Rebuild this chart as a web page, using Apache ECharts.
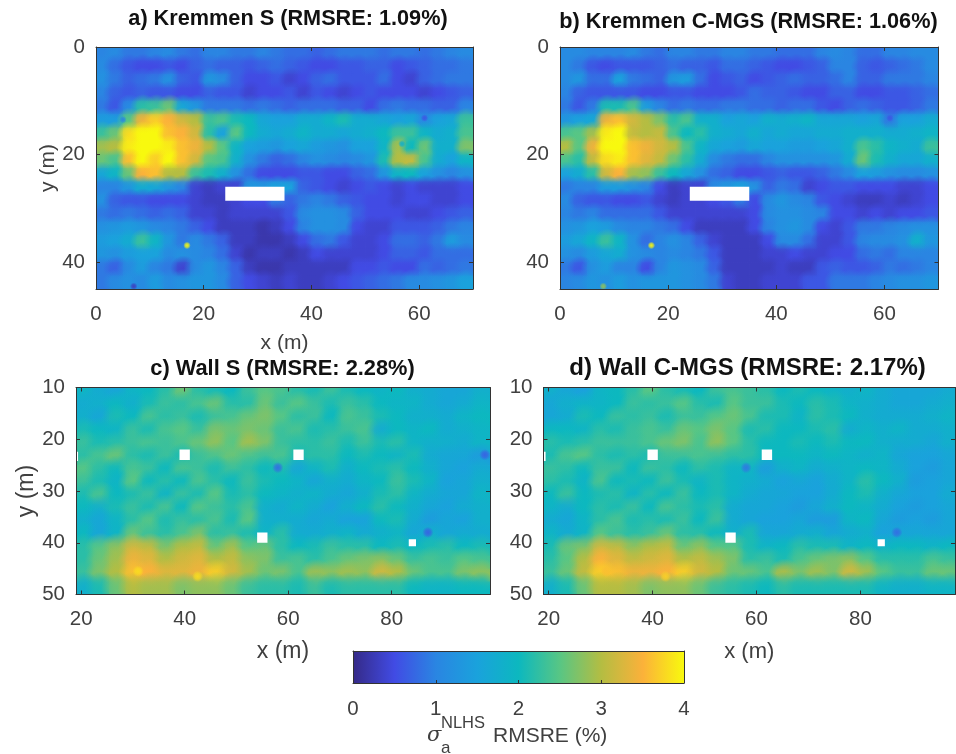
<!DOCTYPE html>
<html><head><meta charset="utf-8">
<style>html,body{margin:0;padding:0;background:#fff}#c{width:956px;height:754px}#c canvas{filter:blur(.45px)}</style>
<script src="https://cdn.jsdelivr.net/npm/echarts@6/dist/echarts.min.js"></script>
</head><body><div id="c"></div>
<script>
const palette=['#352a87','#414be4','#2a85e2','#1aa2dc','#0cb8bf','#58c684','#b4bd42','#fbb13a','#f8f90e'];
const kremmenTicksX=[0,20,40,60], kremmenTicksY=[0,20,40];
const wallTicksX=[20,40,60,80], wallTicksY=[10,20,30,40,50];
const barTicks=[0,1,2,3,4];
const titles=['a) Kremmen S (RMSRE: 1.09%)','b) Kremmen C-MGS (RMSRE: 1.06%)','c) Wall S (RMSRE: 2.28%)','d) Wall C-MGS (RMSRE: 2.17%)'];
const kremmenS=[
[1.0,1.1,0.9,0.9,1.0,1.1,0.9, 0.8,1.0,1.0,0.9,0.9,1.0,0.9, 0.8,0.8,0.7,0.8,0.9,0.9,0.9, 0.8,0.9,0.9,0.8,0.9,1.0,1.1],
[1.1,0.8,0.6,0.5,0.5,0.6,0.5, 0.7,0.8,0.7,0.7,0.6,0.7,0.8, 0.7,0.6,0.5,0.5,0.6,0.6,0.7, 0.7,0.5,0.6,0.7,0.8,0.8,0.9],
[1.2,0.9,0.7,0.8,0.9,1.2,0.7, 0.6,1.3,1.1,0.7,0.5,0.5,0.6, 0.4,0.5,0.7,0.8,0.6,0.6,0.6, 0.8,0.5,0.4,0.7,0.8,0.9,0.9],
[1.0,0.7,0.6,0.7,0.6,0.6,0.5, 0.5,0.7,0.6,0.6,0.4,0.5,0.5, 0.6,0.4,0.6,0.5,0.4,0.5,0.6, 0.5,0.5,0.5,0.4,0.5,0.6,0.7],
[0.9,0.6,1.1,2.2,2.3,2.6,1.6, 1.3,0.9,0.9,0.9,0.8,0.9,0.8, 0.7,0.8,0.8,0.8,0.7,0.7,0.5, 0.8,0.9,0.8,0.8,0.7,0.7,1.0],
[1.4,1.4,2.5,3.4,3.7,3.5,3.2, 3.0,2.3,2.4,2.1,2.0,1.6,1.5, 1.5,1.7,1.7,1.9,2.1,1.7,1.7, 1.6,1.5,1.6,1.1,1.5,1.6,2.3],
[2.3,2.6,3.8,4.0,4.0,3.6,3.5, 3.2,2.2,1.5,2.5,2.0,1.7,1.6, 1.7,1.9,1.7,1.7,1.6,1.7,1.8, 2.0,2.3,2.3,1.9,1.7,1.8,2.4],
[2.9,3.0,3.9,4.0,4.0,3.9,3.6, 3.4,3.0,2.5,1.9,1.5,1.4,1.3, 1.5,1.6,1.4,1.3,1.2,1.5,1.5, 1.9,2.9,2.0,2.6,1.8,1.8,2.7],
[2.6,2.4,3.6,4.0,3.7,4.0,3.6, 3.2,2.5,2.4,1.8,1.2,0.9,0.7, 0.8,1.0,1.2,1.1,1.0,1.1,1.3, 2.1,3.0,3.1,2.4,1.7,1.5,1.9],
[1.6,1.9,2.6,3.5,3.6,3.0,3.0, 2.3,2.1,1.8,1.2,0.8,0.5,0.5, 0.5,0.6,0.6,0.5,0.5,0.7,0.8, 1.3,1.9,2.0,1.5,1.2,1.0,1.2],
[1.0,1.0,1.3,1.7,1.6,1.3,1.0, 0.4,0.3,0.4,0.4,1.3,1.3,1.5, 1.5,0.7,0.6,0.5,0.4,0.5,0.6, 0.5,0.4,0.5,0.4,0.4,0.4,0.5],
[1.2,0.7,0.6,0.6,0.5,0.5,0.5, 0.4,0.3,0.3,0.4,0.5,0.5,0.9, 0.7,0.9,1.0,0.9,0.7,0.6,0.5, 0.5,0.4,0.5,0.5,0.4,0.4,0.5],
[0.9,0.8,0.9,0.8,0.7,0.8,0.7, 0.4,0.4,0.3,0.4,0.4,0.4,0.4, 0.6,1.1,1.2,1.2,1.1,0.7,0.5, 0.5,0.5,0.4,0.4,0.5,0.6,0.7],
[1.2,1.3,1.4,1.3,1.1,1.0,0.9, 0.7,0.5,0.3,0.3,0.3,0.2,0.3, 0.5,1.0,1.2,1.2,1.1,0.5,0.4, 0.4,0.6,0.6,0.6,0.7,0.9,1.0],
[1.4,1.5,1.7,2.3,1.9,1.3,0.9, 1.1,0.9,0.7,0.3,0.3,0.2,0.2, 0.3,0.5,0.8,0.9,0.6,0.4,0.4, 0.5,0.8,0.8,0.7,0.9,1.4,1.1],
[1.3,1.2,1.4,1.5,1.5,1.1,1.2, 1.1,1.0,0.8,0.4,0.2,0.3,0.3, 0.2,0.3,0.5,0.4,0.4,0.4,0.4, 0.5,0.7,0.7,0.6,0.8,0.8,0.8],
[0.9,0.7,1.1,1.4,1.0,0.9,0.4, 1.1,1.3,1.0,0.7,0.3,0.2,0.2, 0.3,0.3,0.3,0.3,0.3,0.5,0.5, 0.6,0.5,0.5,0.8,0.7,0.8,0.9],
[0.9,1.1,1.2,1.1,1.4,1.1,1.2, 1.3,1.3,1.1,0.7,0.5,0.4,0.3, 0.4,0.3,0.3,0.4,0.5,0.6,0.7, 0.8,0.9,1.1,1.1,1.2,1.3,1.5]];
const kremmenC=[
[1.1,1.1,1.0,1.0,1.0,1.1,0.9, 0.8,1.0,1.0,0.9,0.9,1.0,1.0, 0.9,0.9,0.8,0.8,0.8,1.0,1.1, 1.0,0.8,0.8,1.0,1.0,1.1,1.1],
[1.1,0.9,0.6,0.5,0.6,0.6,0.6, 0.7,0.8,0.7,0.7,0.6,0.8,0.8, 0.7,0.6,0.5,0.5,0.6,0.7,1.0, 1.0,0.7,0.6,0.7,0.8,0.9,1.1],
[1.1,1.3,0.8,0.8,1.5,0.9,0.8, 0.7,1.3,1.4,0.8,0.5,0.6,0.7, 0.5,0.6,0.7,0.8,0.7,0.7,0.8, 1.0,0.7,0.7,0.9,0.9,0.9,1.0],
[1.0,0.7,0.6,0.6,0.6,0.6,0.5, 0.5,0.6,0.6,0.5,0.5,0.5,0.6, 0.8,0.7,0.7,0.6,0.5,0.5,0.7, 0.7,0.5,0.5,0.6,0.6,0.7,0.8],
[0.9,0.6,0.9,2.1,2.1,2.4,1.4, 1.0,0.8,0.9,0.8,0.8,0.9,0.9, 0.8,0.8,0.7,0.8,0.8,0.6,0.5, 0.7,0.8,0.7,0.6,0.6,0.7,0.9],
[1.3,1.5,1.6,3.4,3.6,3.2,3.0, 2.7,2.2,2.4,1.8,1.8,1.5,1.6, 1.5,1.8,1.7,1.8,1.9,1.6,1.6, 1.6,1.5,1.6,0.9,1.5,1.5,1.7],
[2.4,2.5,2.9,3.9,4.0,3.1,3.0, 3.1,2.4,2.0,2.2,1.8,1.7,1.6, 1.8,1.6,1.7,1.6,1.6,1.7,1.7, 1.8,1.8,1.8,1.7,1.7,1.8,1.9],
[3.0,2.5,3.4,4.0,4.0,3.6,3.4, 3.2,3.0,2.4,1.9,1.6,1.5,1.4, 1.6,1.5,1.5,1.4,1.4,1.5,1.6, 1.8,2.4,2.2,1.9,1.8,1.7,2.3],
[2.4,2.2,3.1,3.8,3.9,3.6,3.3, 3.1,2.6,2.2,1.7,1.1,0.9,0.8, 0.8,1.0,1.2,1.2,1.2,1.2,1.3, 1.7,2.6,2.1,1.8,1.6,1.6,1.8],
[1.5,1.7,2.2,3.2,3.5,2.9,2.8, 2.3,2.0,1.6,1.2,0.8,0.7,0.5, 0.5,0.6,0.7,0.6,0.6,0.7,0.9, 1.1,1.5,1.4,1.2,1.1,1.1,1.2],
[0.9,1.0,1.0,1.4,1.4,1.2,1.0, 0.5,0.3,0.4,0.4,1.1,1.3,1.5, 1.2,0.7,0.9,0.8,0.4,0.5,0.6, 0.6,0.5,0.5,0.5,0.4,0.4,0.5],
[1.1,0.7,0.6,0.6,0.5,0.5,0.6, 0.4,0.3,0.4,0.4,0.5,0.6,0.9, 0.5,1.1,1.3,1.1,1.0,0.6,0.5, 0.4,0.3,0.3,0.4,0.3,0.4,0.5],
[1.0,0.9,1.0,0.8,0.8,0.8,0.8, 0.6,0.4,0.4,0.4,0.4,0.4,0.4, 0.5,1.1,1.2,1.2,1.1,1.0,0.5, 0.5,0.4,0.5,0.4,0.5,0.5,0.6],
[1.2,1.3,1.5,1.4,1.1,1.0,1.0, 0.9,0.8,0.5,0.3,0.3,0.3,0.3, 0.5,1.0,1.2,1.3,1.1,0.5,0.4, 0.6,0.9,0.9,1.0,1.1,1.2,1.2],
[1.4,1.6,1.9,2.3,1.9,1.2,0.8, 1.0,1.2,1.0,0.7,0.4,0.3,0.3, 0.3,0.5,1.1,1.1,0.8,0.4,0.4, 0.6,1.0,1.1,1.1,1.2,1.8,1.3],
[1.2,1.1,1.4,1.6,1.7,1.2,1.1, 1.0,1.1,1.0,0.9,0.6,0.3,0.3, 0.3,0.4,0.4,0.5,0.4,0.4,0.5, 0.5,0.8,0.9,0.8,1.0,1.0,1.0],
[0.9,0.6,1.2,1.4,1.0,1.0,0.5, 1.0,1.3,1.2,1.1,0.7,0.3,0.3, 0.3,0.3,0.4,0.3,0.3,0.6,0.7, 0.6,0.6,0.7,0.9,0.8,0.9,1.0],
[1.0,1.1,1.3,1.2,1.4,1.2,1.3, 1.3,1.3,1.2,1.1,0.9,0.4,0.3, 0.3,0.4,0.4,0.4,0.6,0.6,0.9, 0.9,0.9,1.0,1.1,1.2,1.2,1.3]];
const wallS=[
[1.9,1.7,1.6,1.9,2.0, 2.2,2.6,2.2,2.1,2.0, 2.3,2.5,2.4,2.2,2.1, 2.3,2.1,2.0,1.9,2.0, 1.8,1.7,1.6,1.6,1.8],
[1.7,1.8,2.0,1.8,2.1, 2.3,2.2,2.4,2.6,2.2, 2.2,2.6,2.3,2.5,2.3, 2.1,2.3,2.2,2.0,1.9, 1.9,1.7,1.6,1.7,1.9],
[1.8,1.6,2.1,2.0,2.4, 2.2,2.3,2.1,2.3,2.4, 2.6,2.7,2.5,2.2,2.3, 2.0,2.4,2.3,2.1,2.0, 1.8,1.8,1.7,1.9,2.0],
[2.1,2.0,1.9,2.3,2.1, 2.4,2.5,2.3,2.7,2.6, 2.7,2.6,2.3,2.4,2.1, 2.2,2.3,2.4,1.7,2.0, 1.9,2.0,1.7,1.8,1.9],
[2.3,2.1,2.2,2.3,2.4, 2.3,2.4,2.6,2.8,2.5, 2.9,2.7,2.3,2.2,2.2, 2.3,2.1,2.3,2.1,2.2, 1.9,1.8,1.8,1.7,1.9],
[2.2,2.4,2.6,2.2,2.1, 2.3,2.1,2.3,2.4,2.6, 2.4,2.3,2.4,2.1,2.2, 2.2,2.0,2.1,2.0,1.9, 2.1,1.7,1.6,1.6,1.4],
[2.5,2.2,2.0,2.4,2.3, 2.0,2.4,2.3,2.1,2.3, 2.2,2.0,2.1,1.6,1.9, 2.1,1.8,2.0,2.1,2.2, 2.0,1.8,1.6,1.5,1.7],
[2.3,2.1,1.9,2.5,2.0, 2.2,2.0,2.4,2.2,2.0, 2.3,2.1,2.0,1.9,1.6, 1.8,1.7,1.9,2.0,2.3, 2.1,1.9,1.5,1.6,1.8],
[2.1,2.4,2.0,2.1,2.3, 1.9,2.3,2.1,2.5,2.1, 2.2,2.0,1.9,1.8,1.9, 1.7,1.6,1.8,2.1,2.2, 1.9,1.7,1.6,1.6,1.9],
[2.0,1.8,2.1,2.3,2.1, 2.4,2.0,2.5,2.3,2.2, 2.4,1.8,1.7,1.9,1.7, 1.5,1.8,2.0,2.2,2.0, 1.8,1.6,1.5,1.7,1.8],
[1.8,1.6,1.9,2.2,2.5, 2.1,2.3,2.2,2.4,2.1, 2.5,1.8,1.8,1.7,1.6, 1.7,1.5,1.5,2.0,2.1, 1.7,1.4,1.6,1.5,1.8],
[2.0,1.6,1.9,2.6,2.3, 2.2,2.4,2.7,2.2,2.3, 2.1,1.9,2.2,1.7,1.7, 1.8,1.9,1.7,1.8,1.9, 1.6,1.8,1.6,1.7,1.7],
[2.2,2.5,2.8,3.2,3.1, 2.7,3.0,3.1,2.6,2.9, 2.5,2.6,2.2,2.0,2.1, 2.3,2.2,2.2,2.0,2.1, 2.0,2.1,2.2,2.0,2.1],
[2.2,2.6,2.9,3.4,3.3, 3.0,3.2,3.3,3.0,3.1, 2.8,2.7,2.3,2.4,2.2, 2.4,2.6,2.7,2.8,2.6, 2.3,2.4,2.3,2.5,2.4],
[2.3,2.7,3.0,3.6,3.5, 3.3,3.3,3.4,3.7,3.2, 2.9,2.6,2.7,2.4,2.9, 2.8,2.9,2.8,3.2,3.0, 2.6,2.4,2.4,2.7,2.8],
[1.8,2.1,2.6,3.0,2.9, 2.9,2.7,2.8,2.8,2.6, 2.3,2.2,2.2,2.1,2.3, 2.1,2.2,2.2,2.2,2.2, 2.0,1.9,1.9,2.0,2.0]];
const wallC=[
[1.8,1.6,1.5,1.9,2.0, 2.2,2.5,2.2,2.1,2.0, 2.3,2.4,2.3,2.2,2.0, 2.1,2.0,1.9,1.8,1.9, 1.7,1.6,1.6,1.6,1.7],
[1.6,1.8,1.9,1.9,2.0, 2.3,2.2,2.3,2.5,2.2, 2.1,2.5,2.3,2.3,2.1, 2.0,2.2,2.1,1.9,1.8, 1.7,1.6,1.6,1.7,1.8],
[1.6,1.7,2.1,2.0,2.3, 2.2,2.3,2.1,2.3,2.3, 2.5,2.6,2.4,2.1,2.1, 1.9,2.2,2.1,2.0,1.8, 1.7,1.7,1.7,1.8,1.9],
[2.0,2.0,1.9,2.2,2.1, 2.3,2.4,2.3,2.6,2.5, 2.7,2.5,2.1,2.2,2.0, 2.0,2.1,2.2,1.7,1.9, 1.8,1.9,1.7,1.7,1.8],
[2.2,2.1,2.2,2.3,2.3, 2.3,2.4,2.6,2.7,2.4, 2.8,2.5,2.2,2.0,2.0, 2.1,2.0,2.1,2.0,2.0, 1.8,1.7,1.7,1.6,1.8],
[2.1,2.4,2.5,2.2,2.1, 2.2,2.1,2.3,2.3,2.4, 2.3,2.2,2.2,2.0,2.0, 2.0,1.9,2.0,1.9,1.8, 1.9,1.6,1.5,1.5,1.6],
[2.3,2.2,2.0,2.3,2.3, 2.0,2.3,2.2,2.0,2.2, 2.1,1.9,1.9,1.4,1.8, 1.9,1.7,1.8,1.9,2.0, 1.9,1.7,1.5,1.4,1.6],
[2.2,2.1,1.9,2.4,2.0, 2.1,2.0,2.3,2.1,1.9, 2.1,1.9,1.8,1.7,1.5, 1.6,1.5,1.7,1.9,2.2, 2.0,1.8,1.4,1.5,1.6],
[2.0,2.3,2.0,2.1,2.2, 1.9,2.2,2.0,2.3,2.0, 2.1,1.9,1.7,1.6,1.6, 1.5,1.5,1.7,2.0,2.1, 1.8,1.6,1.5,1.5,1.7],
[1.9,1.7,2.0,2.2,2.1, 2.3,2.0,2.4,2.2,2.1, 2.2,1.7,1.6,1.6,1.5, 1.4,1.6,1.8,2.0,1.9, 1.7,1.5,1.4,1.5,1.6],
[1.7,1.6,1.9,2.2,2.4, 2.1,2.2,2.1,2.3,2.0, 2.3,1.7,1.6,1.5,1.5, 1.6,1.4,1.4,1.9,2.0, 1.6,1.4,1.5,1.4,1.6],
[1.9,1.7,1.9,2.5,2.3, 2.2,2.3,2.6,2.2,2.2, 2.0,1.8,2.1,1.6,1.6, 1.7,1.8,1.6,1.7,1.8, 1.5,1.6,1.6,1.6,1.6],
[2.1,2.6,2.7,3.2,3.1, 2.8,3.0,3.1,2.6,2.8, 2.5,2.5,2.1,1.9,2.0, 2.2,2.1,2.1,1.9,2.0, 1.9,2.0,2.0,1.9,2.0],
[2.2,2.5,3.0,3.5,3.3, 3.1,3.2,3.3,3.0,3.1, 2.9,2.7,2.2,2.3,2.1, 2.4,2.6,2.7,2.8,2.5, 2.2,2.2,2.2,2.4,2.3],
[2.3,2.6,3.1,3.7,3.6, 3.4,3.4,3.5,3.7,3.2, 3.0,2.6,2.6,2.4,3.0, 2.7,2.9,2.7,3.2,2.9, 2.5,2.3,2.3,2.6,2.6],
[1.8,2.1,2.6,3.0,3.0, 2.9,2.7,2.8,2.8,2.6, 2.3,2.2,2.1,2.0,2.2, 2.1,2.1,2.1,2.1,2.1, 1.9,1.8,1.8,1.9,1.9]];
// small features: [x (m), y (m), value]
const spotsKS=[[16.9,36.9,4.0],[61,13.2,0.6],[7,44.5,0.3],[56.8,18,1.8],[5,13.5,1.0]];
const spotsKC=[[16.9,36.9,4.0],[61,13.2,0.6],[8,44.5,2.8]];
const spotsWS=[[58,25.5,0.8],[87,38,0.7],[98,23,0.7],[42.5,46.5,3.8],[31,45.5,3.8]];
const spotsWC=[[58,25.5,0.9],[87,38,0.8],[42.5,46.5,3.7],[31,45.5,3.6]];
// white holes: [x0, x1, y0, y1]
const holesK=[[24,35,26,28.6]];
const holesW=[[39,41,22,24],[61,63,22,24],[54,56,38,40],[83.3,84.7,39.3,40.7],[19,19.4,22.4,24.2]];

const panels=[
 {rows:kremmenS,spots:spotsKS,holes:holesK,x0:0,y0:0,dx:2.5,dy:2.5,sw:0.7,xr:[0,70],yr:[0,45],tx:kremmenTicksX,ty:kremmenTicksY,box:[96,47,377,242],xn:'x (m)',yn:'y (m)',xg:44,yg:33,xf:21,yf:21},
 {rows:kremmenC,spots:spotsKC,holes:holesK,x0:0,y0:0,dx:2.5,dy:2.5,sw:0.7,xr:[0,70],yr:[0,45],tx:kremmenTicksX,ty:kremmenTicksY,box:[560,47,378.5,242],xn:'',yn:''},
 {rows:wallS,spots:spotsWS,holes:holesW,x0:19,y0:10,dx:3.2,dy:2.5,sw:1.1,xr:[19,99],yr:[10,50],tx:wallTicksX,ty:wallTicksY,box:[76,387.5,414,207],xn:'x (m)',yn:'y (m)',xg:46,yg:37,xf:23,yf:23},
 {rows:wallC,spots:spotsWC,holes:holesW,x0:19,y0:10,dx:3.2,dy:2.5,sw:1.1,xr:[19,98.2],yr:[10,50],tx:wallTicksX,ty:wallTicksY,box:[543.5,387.5,411.5,207],xn:'x (m)',yn:'',xg:46,xf:22}
];
const TXT='#404040',LINE='#333333',FONT='"Liberation Sans",Arial,sans-serif';
const grid=[],xAxis=[],yAxis=[],series=[],title=[];
function cell(api){
  const a=api.coord([api.value(0),api.value(1)]),b=api.coord([api.value(3),api.value(4)]);
  return {type:'rect',shape:{x:a[0],y:a[1],width:b[0]-a[0]+.6,height:b[1]-a[1]+.6},style:{fill:api.visual('color')}};
}
function splat(api){
  const a=api.coord([api.value(0),api.value(1)]),b=api.coord([api.value(3),api.value(4)]);
  const c=api.visual('color'),m=echarts.color.modifyAlpha;
  const r=1.0*Math.max(b[0]-a[0],b[1]-a[1]);
  return {type:'circle',shape:{cx:(a[0]+b[0])/2,cy:(a[1]+b[1])/2,r},
    style:{fill:new echarts.graphic.RadialGradient(.5,.5,.5,[{offset:0,color:m(c,.95)},{offset:.5,color:m(c,.7)},{offset:1,color:m(c,0)}])}};
}
const dataSeriesIdx=[];
panels.forEach((p,i)=>{
  const g=grid.length,[l,t,w,h]=p.box;
  grid.push({left:l,top:t,width:w,height:h,containLabel:false});
  const base={gridIndex:g,z:6,axisLine:{show:true,onZero:false,lineStyle:{color:LINE,width:1}},splitLine:{show:false}};
  xAxis.push({...base,type:'value',min:p.xr[0],max:p.xr[1],position:'bottom',
    name:p.xn,nameLocation:'middle',nameGap:p.xg||45,nameTextStyle:{fontSize:p.xf||20,color:TXT,fontFamily:FONT},
    axisTick:{show:true,inside:true,length:4,lineStyle:{color:LINE},customValues:p.tx},
    axisLabel:{show:true,margin:t<100?15:14,fontSize:20.5,color:TXT,fontFamily:FONT,customValues:p.tx}});
  xAxis.push({...base,type:'value',min:p.xr[0],max:p.xr[1],position:'top',
    axisTick:{show:true,inside:true,length:4,lineStyle:{color:LINE},customValues:p.tx},axisLabel:{show:false}});
  yAxis.push({...base,type:'value',inverse:true,min:p.yr[0],max:p.yr[1],position:'left',
    name:p.yn,nameLocation:'middle',nameGap:p.yg||40,nameTextStyle:{fontSize:p.yf||20,color:TXT,fontFamily:FONT},
    axisTick:{show:true,inside:true,length:4,lineStyle:{color:LINE},customValues:p.ty},
    axisLabel:{show:true,margin:11,fontSize:20.5,color:TXT,fontFamily:FONT,customValues:p.ty}});
  yAxis.push({...base,type:'value',inverse:true,min:p.yr[0],max:p.yr[1],position:'right',
    axisTick:{show:true,inside:true,length:4,lineStyle:{color:LINE},customValues:p.ty},axisLabel:{show:false}});
  const cells=[];
  p.rows.forEach((r,ri)=>r.forEach((v,ci)=>{
    const x=p.x0+ci*p.dx,y=p.y0+ri*p.dy;
    cells.push([x,y,v,x+p.dx,y+p.dy]);
  }));
  const spots=p.spots.map(s=>[s[0]-p.sw/2,s[1]-p.sw/2,s[2],s[0]+p.sw/2,s[1]+p.sw/2]);
  const common={type:'custom',xAxisIndex:2*g,yAxisIndex:2*g,clip:true,silent:true,progressive:0,
    dimensions:['x0','y0','v','x1','y1'],encode:{x:[0,3],y:[1,4]}};
  dataSeriesIdx.push(series.length);
  series.push({...common,name:titles[i],z:2,data:cells,renderItem:(prm,api)=>cell(api)});
  dataSeriesIdx.push(series.length);
  series.push({...common,name:titles[i]+' soft',z:3,data:cells.concat(spots),renderItem:(prm,api)=>splat(api)});
  series.push({type:'custom',name:'holes'+i,xAxisIndex:2*g,yAxisIndex:2*g,clip:true,z:4,silent:true,
    data:p.holes,encode:{x:[0,1],y:[2,3]},
    renderItem:(prm,api)=>{const a=api.coord([api.value(0),api.value(2)]),b=api.coord([api.value(1),api.value(3)]);
      return {type:'rect',shape:{x:a[0],y:a[1],width:b[0]-a[0],height:b[1]-a[1]},style:{fill:'#fff'}};}});
});
// colorbar
(function(){
  const g=grid.length;
  grid.push({left:353,top:651,width:331,height:32});
  const base={gridIndex:g,z:6,axisLine:{show:true,onZero:false,lineStyle:{color:LINE}},splitLine:{show:false}};
  xAxis.push({...base,type:'value',min:0,max:4,position:'bottom',
    axisTick:{show:true,inside:true,length:3,lineStyle:{color:LINE},customValues:barTicks},
    axisLabel:{show:true,margin:16,fontSize:20.5,color:TXT,fontFamily:FONT,customValues:barTicks}});
  xAxis.push({...base,type:'value',min:0,max:4,position:'top',axisTick:{show:false},axisLabel:{show:false}});
  yAxis.push({...base,type:'value',min:0,max:1,position:'left',axisTick:{show:false},axisLabel:{show:false}});
  yAxis.push({...base,type:'value',min:0,max:1,position:'right',axisTick:{show:false},axisLabel:{show:false}});
  series.push({type:'custom',name:'colorbar',xAxisIndex:2*g,yAxisIndex:2*g,z:2,silent:true,
    data:[[0,4,0,1]],encode:{x:[0,1],y:[2,3]},
    renderItem:(prm,api)=>{const a=api.coord([api.value(0),api.value(3)]),b=api.coord([api.value(1),api.value(2)]);
      return {type:'rect',shape:{x:a[0],y:a[1],width:b[0]-a[0],height:b[1]-a[1]},
        style:{fill:new echarts.graphic.LinearGradient(0,0,1,0,palette.map((c,i)=>({offset:i/(palette.length-1),color:c})))}};}});
})();
const titlePos=[[283,14],[743.5,17],[277.5,364],[742.5,363]];
const titleSize=[21.7,21.7,21.8,24];
titles.forEach((t,i)=>title.push({text:t,left:titlePos[i][0],top:titlePos[i][1],textAlign:'center',textVerticalAlign:'middle',
  textStyle:{fontSize:titleSize[i],fontWeight:'bold',color:'#111',fontFamily:FONT}}));
const txt=(x,y,s,fs,extra)=>({type:'text',left:x,top:y,style:{text:s,fontSize:fs,fill:TXT,fontFamily:FONT,...(extra||{})}});
const chart=echarts.init(document.getElementById('c'),null,{renderer:'canvas',width:956,height:754});
chart.setOption({animation:false,backgroundColor:'#fff',title,grid,xAxis,yAxis,series,
  visualMap:{show:false,type:'continuous',min:0,max:4,dimension:2,seriesIndex:dataSeriesIdx,inRange:{color:palette}},
  graphic:[txt(427,725,'σ',21,{fontFamily:'"DejaVu Serif",serif',fontStyle:'italic'}),
           txt(441,740,'a',17),txt(441,715,'NLHS',16.5),txt(493,726,'RMSRE (%)',21)]});
</script></body></html>
